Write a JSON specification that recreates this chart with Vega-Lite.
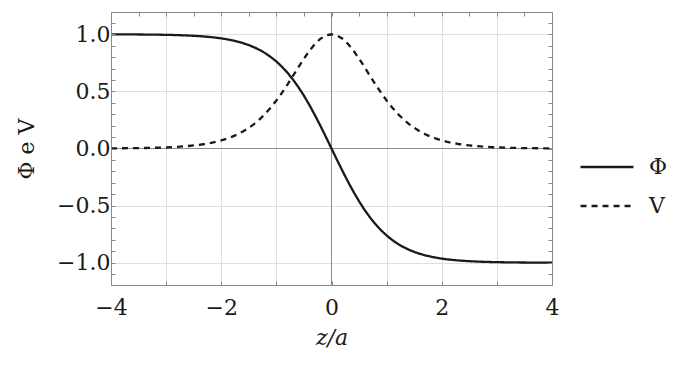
{
  "$schema": "https://vega.github.io/schema/vega-lite/v6.json",
  "width": 441,
  "height": 273,
  "autosize": {"type": "none"},
  "padding": {"left": 111, "top": 12, "right": 121, "bottom": 83},
  "background": "white",
  "config": {
    "view": {"stroke": null},
    "font": "DejaVu Serif",
    "axis": {"labelFont": "DejaVu Serif", "titleFont": "DejaVu Serif", "labelFontSize": 22, "titleFontSize": 22, "labelColor": "#1a1a1a", "titleColor": "#1a1a1a", "titleFontWeight": "normal"}
  },
  "data": {
    "values": [
      {"z": -4.0, "Φ": 0.99933, "V": 0.00134},
      {"z": -3.8, "Φ": 0.99900, "V": 0.00200},
      {"z": -3.6, "Φ": 0.99851, "V": 0.00298},
      {"z": -3.4, "Φ": 0.99777, "V": 0.00445},
      {"z": -3.2, "Φ": 0.99668, "V": 0.00663},
      {"z": -3.0, "Φ": 0.99505, "V": 0.00987},
      {"z": -2.9, "Φ": 0.99396, "V": 0.01204},
      {"z": -2.8, "Φ": 0.99263, "V": 0.01469},
      {"z": -2.7, "Φ": 0.99101, "V": 0.01790},
      {"z": -2.6, "Φ": 0.98903, "V": 0.02182},
      {"z": -2.5, "Φ": 0.98661, "V": 0.02660},
      {"z": -2.4, "Φ": 0.98367, "V": 0.03239},
      {"z": -2.3, "Φ": 0.98010, "V": 0.03940},
      {"z": -2.2, "Φ": 0.97574, "V": 0.04793},
      {"z": -2.1, "Φ": 0.97045, "V": 0.05823},
      {"z": -2.0, "Φ": 0.96403, "V": 0.07065},
      {"z": -1.9, "Φ": 0.95624, "V": 0.08561},
      {"z": -1.8, "Φ": 0.94681, "V": 0.10355},
      {"z": -1.7, "Φ": 0.93541, "V": 0.12501},
      {"z": -1.6, "Φ": 0.92167, "V": 0.15052},
      {"z": -1.5, "Φ": 0.90515, "V": 0.18071},
      {"z": -1.4, "Φ": 0.88535, "V": 0.21615},
      {"z": -1.3, "Φ": 0.86172, "V": 0.25744},
      {"z": -1.2, "Φ": 0.83365, "V": 0.30503},
      {"z": -1.1, "Φ": 0.80050, "V": 0.35920},
      {"z": -1.0, "Φ": 0.76159, "V": 0.41998},
      {"z": -0.9, "Φ": 0.71630, "V": 0.48691},
      {"z": -0.8, "Φ": 0.66404, "V": 0.55905},
      {"z": -0.7, "Φ": 0.60437, "V": 0.63474},
      {"z": -0.6, "Φ": 0.53705, "V": 0.71158},
      {"z": -0.5, "Φ": 0.46212, "V": 0.78645},
      {"z": -0.4, "Φ": 0.37995, "V": 0.85564},
      {"z": -0.3, "Φ": 0.29131, "V": 0.91514},
      {"z": -0.2, "Φ": 0.19738, "V": 0.96104},
      {"z": -0.1, "Φ": 0.09967, "V": 0.99007},
      {"z": 0.0, "Φ": 0.0, "V": 1.0},
      {"z": 0.1, "Φ": -0.09967, "V": 0.99007},
      {"z": 0.2, "Φ": -0.19738, "V": 0.96104},
      {"z": 0.3, "Φ": -0.29131, "V": 0.91514},
      {"z": 0.4, "Φ": -0.37995, "V": 0.85564},
      {"z": 0.5, "Φ": -0.46212, "V": 0.78645},
      {"z": 0.6, "Φ": -0.53705, "V": 0.71158},
      {"z": 0.7, "Φ": -0.60437, "V": 0.63474},
      {"z": 0.8, "Φ": -0.66404, "V": 0.55905},
      {"z": 0.9, "Φ": -0.71630, "V": 0.48691},
      {"z": 1.0, "Φ": -0.76159, "V": 0.41998},
      {"z": 1.1, "Φ": -0.80050, "V": 0.35920},
      {"z": 1.2, "Φ": -0.83365, "V": 0.30503},
      {"z": 1.3, "Φ": -0.86172, "V": 0.25744},
      {"z": 1.4, "Φ": -0.88535, "V": 0.21615},
      {"z": 1.5, "Φ": -0.90515, "V": 0.18071},
      {"z": 1.6, "Φ": -0.92167, "V": 0.15052},
      {"z": 1.7, "Φ": -0.93541, "V": 0.12501},
      {"z": 1.8, "Φ": -0.94681, "V": 0.10355},
      {"z": 1.9, "Φ": -0.95624, "V": 0.08561},
      {"z": 2.0, "Φ": -0.96403, "V": 0.07065},
      {"z": 2.1, "Φ": -0.97045, "V": 0.05823},
      {"z": 2.2, "Φ": -0.97574, "V": 0.04793},
      {"z": 2.3, "Φ": -0.98010, "V": 0.03940},
      {"z": 2.4, "Φ": -0.98367, "V": 0.03239},
      {"z": 2.5, "Φ": -0.98661, "V": 0.02660},
      {"z": 2.6, "Φ": -0.98903, "V": 0.02182},
      {"z": 2.7, "Φ": -0.99101, "V": 0.01790},
      {"z": 2.8, "Φ": -0.99263, "V": 0.01469},
      {"z": 2.9, "Φ": -0.99396, "V": 0.01204},
      {"z": 3.0, "Φ": -0.99505, "V": 0.00987},
      {"z": 3.2, "Φ": -0.99668, "V": 0.00663},
      {"z": 3.4, "Φ": -0.99777, "V": 0.00445},
      {"z": 3.6, "Φ": -0.99851, "V": 0.00298},
      {"z": 3.8, "Φ": -0.99900, "V": 0.00200},
      {"z": 4.0, "Φ": -0.99933, "V": 0.00134}
    ]
  },
  "resolve": {"axis": {"x": "independent", "y": "independent"}},
  "layer": [
    {
      "mark": {"type": "rule", "color": "#8c8c8c", "strokeWidth": 1},
      "encoding": {
        "x": {"datum": 0, "type": "quantitative",
          "scale": {"domain": [-4, 4], "nice": false, "zero": false},
          "axis": {"orient": "bottom", "values": [-3, -2, -1, 1, 2, 3], "grid": true, "gridColor": "#dedede", "gridWidth": 1, "ticks": false, "labels": false, "domain": false, "title": null, "zindex": 0}}
      }
    },
    {
      "mark": {"type": "rule", "color": "#8c8c8c", "strokeWidth": 1},
      "encoding": {
        "y": {"datum": 0, "type": "quantitative",
          "scale": {"domain": [-1.195, 1.195], "nice": false, "zero": false},
          "axis": {"orient": "left", "values": [-1, -0.5, 0.5, 1], "grid": true, "gridColor": "#dedede", "gridWidth": 1, "ticks": false, "labels": false, "domain": false, "title": null, "zindex": 0}}
      }
    },
    {
      "transform": [{"fold": ["Φ", "V"], "as": ["serie", "val"]}],
      "mark": {"type": "line", "color": "#1a1a1a", "strokeWidth": 2.3, "strokeCap": "butt"},
      "encoding": {
        "x": {"field": "z", "type": "quantitative",
          "scale": {"domain": [-4, 4], "nice": false, "zero": false},
          "axis": {"orient": "bottom", "values": [-4, -3.5, -3, -2.5, -2, -1.5, -1, -0.5, 0, 0.5, 1, 1.5, 2, 2.5, 3, 3.5, 4],
            "format": "d", "labelExpr": "datum.value % 2 === 0 ? datum.label : ''",
            "tickSize": -4, "tickColor": "#888888", "domain": true, "domainColor": "#888888", "grid": false,
            "labelPadding": 16, "labelFlush": false, "title": "z/a", "titleFontStyle": "italic", "titlePadding": 9, "zindex": 1}},
        "y": {"field": "val", "type": "quantitative",
          "scale": {"domain": [-1.195, 1.195], "nice": false, "zero": false},
          "axis": {"orient": "left", "values": [-1.1, -1, -0.9, -0.8, -0.7, -0.6, -0.5, -0.4, -0.3, -0.2, -0.1, 0, 0.1, 0.2, 0.3, 0.4, 0.5, 0.6, 0.7, 0.8, 0.9, 1, 1.1],
            "format": ".1f", "labelExpr": "abs(datum.value * 2 - round(datum.value * 2)) < 0.000001 ? datum.label : ''",
            "tickSize": -4, "tickColor": "#888888", "domain": true, "domainColor": "#888888", "grid": false,
            "labelPadding": 5, "labelFlush": false, "title": "Φ e V", "titlePadding": 18, "zindex": 1}},
        "strokeDash": {"field": "serie", "type": "nominal",
          "scale": {"domain": ["Φ", "V"], "range": [[1, 0], [6, 5]]},
          "legend": {"title": null, "orient": "none", "legendX": 468, "legendY": 127,
            "symbolType": "stroke", "symbolSize": 2800, "symbolStrokeWidth": 2.3, "symbolStrokeColor": "#1a1a1a",
            "labelFont": "DejaVu Serif", "labelFontSize": 22, "labelColor": "#1a1a1a", "labelOffset": 14, "rowPadding": 0}}
      }
    },
    {
      "mark": {"type": "point", "opacity": 0, "size": 0},
      "encoding": {
        "x": {"datum": 0, "type": "quantitative",
          "scale": {"domain": [-4, 4], "nice": false, "zero": false},
          "axis": {"orient": "top", "values": [-3.5, -3, -2.5, -2, -1.5, -1, -0.5, 0, 0.5, 1, 1.5, 2, 2.5, 3, 3.5],
            "labels": false, "tickSize": -4, "tickColor": "#888888", "domain": true, "domainColor": "#888888", "grid": false, "title": null, "zindex": 1}},
        "y": {"datum": 0, "type": "quantitative",
          "scale": {"domain": [-1.195, 1.195], "nice": false, "zero": false},
          "axis": {"orient": "right", "values": [-1.1, -1, -0.9, -0.8, -0.7, -0.6, -0.5, -0.4, -0.3, -0.2, -0.1, 0, 0.1, 0.2, 0.3, 0.4, 0.5, 0.6, 0.7, 0.8, 0.9, 1, 1.1],
            "labels": false, "tickSize": -4, "tickColor": "#888888", "domain": true, "domainColor": "#888888", "grid": false, "title": null, "zindex": 1}}
      }
    }
  ]
}
